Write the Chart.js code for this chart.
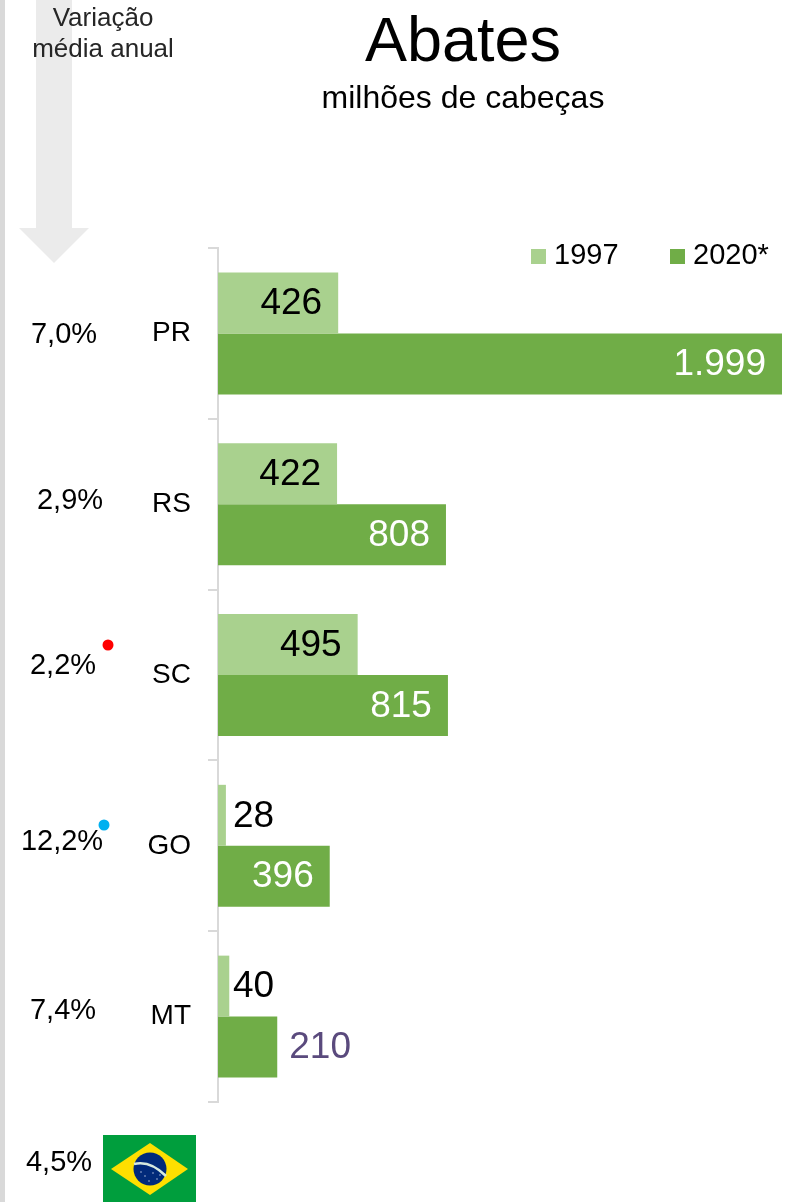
<!DOCTYPE html>
<html lang="pt">
<head>
<meta charset="utf-8">
<title>Abates</title>
<script src="https://cdn.jsdelivr.net/npm/chart.js@4/dist/chart.umd.js"></script>
<style>
  html, body { margin: 0; padding: 0; background: #fff; overflow: hidden; }
  #wrap { position: relative; width: 797px; height: 1202px; }
  canvas { position: absolute; left: 0; top: 0; }
  #flag { position: absolute; left: 103px; top: 1135px; }
</style>
</head>
<body>
<div id="wrap">
  <canvas id="chart" width="797" height="1202"></canvas>
  <svg id="flag" width="93" height="67" viewBox="0 0 93 67">
    <rect width="93" height="67" fill="#009e3d"/>
    <polygon points="8,34 47,8 85,34 47,60" fill="#fedf00"/>
    <circle cx="47" cy="34" r="16.5" fill="#012a7a"/>
    <path d="M31 29 Q47 25 63 41" fill="none" stroke="#d6eadf" stroke-width="2.6"/>
    <g fill="#cfd8ea">
      <circle cx="42" cy="41" r="0.7"/><circle cx="50" cy="38" r="0.7"/><circle cx="54" cy="44" r="0.7"/>
      <circle cx="46" cy="46" r="0.7"/><circle cx="38" cy="37" r="0.7"/><circle cx="57" cy="40" r="0.7"/>
    </g>
  </svg>
</div>
<script>
const categories = ['PR', 'RS', 'SC', 'GO', 'MT'];
const values1997 = [426, 422, 495, 28, 40];
const values2020 = [1999, 808, 815, 396, 210];
const seriesNames = ['1997', '2020*'];
const growthLabels = ['7,0%', '2,9%', '2,2%', '12,2%', '7,4%'];
const brazilGrowth = '4,5%';

const FONT = '"Liberation Sans", Arial, sans-serif';
const LIGHT = '#a9d18e';
const DARK = '#70ad47';
const AXIS = '#d9d9d9';

// hand placed in the original slide, so they don't follow the bands exactly
const growthSpots = [[64, 335], [70, 501], [63, 666], [62, 842], [63, 1011]];

function fmt(v) {
  return v.toLocaleString('de-DE');
}

const backdrop = {
  id: 'backdrop',
  beforeDraw(chart) {
    const c = chart.ctx;
    c.save();
    c.fillStyle = AXIS;
    c.fillRect(0, 0, 5, 1202);
    c.fillStyle = '#ebebeb';
    c.beginPath();
    c.moveTo(36, 0);
    c.lineTo(72, 0);
    c.lineTo(72, 228);
    c.lineTo(89, 228);
    c.lineTo(54, 263);
    c.lineTo(19, 228);
    c.lineTo(36, 228);
    c.closePath();
    c.fill();
    c.restore();
  }
};

const annotations = {
  id: 'annotations',
  afterDraw(chart) {
    const c = chart.ctx;
    c.save();
    c.textBaseline = 'middle';

    // bar values
    chart.data.datasets.forEach((ds, i) => {
      const meta = chart.getDatasetMeta(i);
      c.font = '37px ' + FONT;
      meta.data.forEach((bar, j) => {
        const v = ds.data[j];
        const outside = v < 100 || v === 210;
        c.fillStyle = i === 0 ? '#000' : (outside ? '#5a4a7d' : '#fff');
        c.textAlign = outside ? 'left' : 'right';
        let x = bar.x - 16;
        if (outside) x = v === 210 ? bar.x + 12 : 233;
        c.fillText(fmt(v), x, bar.y + 1);
      });
    });

    // growth column
    c.font = '29px ' + FONT;
    c.fillStyle = '#000';
    c.textAlign = 'center';
    growthLabels.forEach((t, i) => c.fillText(t, growthSpots[i][0], growthSpots[i][1]));
    c.fillText(brazilGrowth, 59, 1163);

    c.fillStyle = '#ff0000';
    c.beginPath();
    c.arc(108, 645, 5.5, 0, Math.PI * 2);
    c.fill();
    c.fillStyle = '#00b0f0';
    c.beginPath();
    c.arc(104, 825, 5.5, 0, Math.PI * 2);
    c.fill();

    // headings
    c.fillStyle = '#000';
    c.font = '63px ' + FONT;
    c.fillText('Abates', 463, 44);
    c.font = '32px ' + FONT;
    c.fillText('milhões de cabeças', 463, 99);
    c.fillStyle = '#262626';
    c.font = '26px ' + FONT;
    c.fillText('Variação', 103, 19);
    c.fillText('média anual', 103, 50);

    // legend
    const legendX = [531, 670];
    c.textAlign = 'left';
    c.font = '29px ' + FONT;
    chart.data.datasets.forEach((ds, i) => {
      c.fillStyle = ds.backgroundColor;
      c.fillRect(legendX[i], 249, 15, 15);
      c.fillStyle = '#000';
      c.fillText(ds.label, legendX[i] + 23, 256);
    });
    c.restore();
  }
};

new Chart(document.getElementById('chart'), {
  type: 'bar',
  data: {
    labels: categories,
    datasets: [
      { label: seriesNames[0], data: values1997, backgroundColor: LIGHT },
      { label: seriesNames[1], data: values2020, backgroundColor: DARK }
    ]
  },
  options: {
    indexAxis: 'y',
    responsive: false,
    animation: false,
    categoryPercentage: 0.714,
    barPercentage: 1,
    layout: { padding: { top: 248, bottom: 100, right: 15, left: 0 } },
    scales: {
      x: { display: false, min: 0, max: 1999 },
      y: {
        afterFit(scale) { scale.width = 218; },
        border: { color: AXIS, width: 2 },
        grid: { color: AXIS, lineWidth: 2, drawOnChartArea: false, tickLength: 10, offset: true },
        ticks: { color: '#000', padding: 17, font: { family: FONT, size: 28 } }
      }
    },
    plugins: {
      legend: { display: false },
      tooltip: { enabled: false }
    }
  },
  plugins: [backdrop, annotations]
});
</script>
</body>
</html>
